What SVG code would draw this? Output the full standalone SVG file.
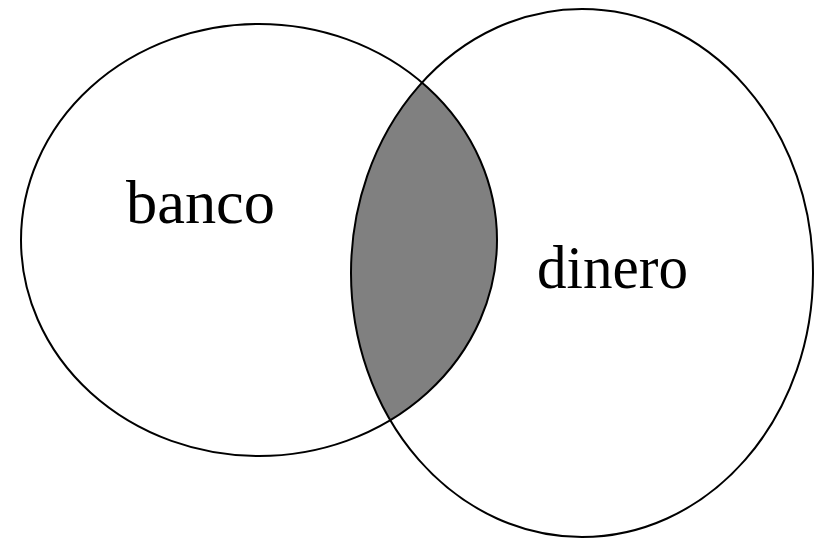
<svg xmlns="http://www.w3.org/2000/svg" width="814" height="539" viewBox="0 0 814 539">
<style>
.outline{fill:none;stroke:#000;stroke-width:2}
.lbl{font-family:"Liberation Serif","Times New Roman",serif;font-size:62px;fill:#000}
</style>
<defs>
<clipPath id="clipLeft"><ellipse cx="259" cy="240" rx="238" ry="216"/></clipPath>
</defs>
<rect width="814" height="539" fill="#fff"/>
<g id="intersection">
<ellipse cx="582" cy="273" rx="231" ry="264" fill="#808080" clip-path="url(#clipLeft)"/>
</g>
<g id="banco">
<ellipse class="outline" cx="259" cy="240" rx="238" ry="216"/>
<text class="lbl" x="126" y="223" textLength="149" lengthAdjust="spacingAndGlyphs">banco</text>
</g>
<g id="dinero">
<ellipse class="outline" cx="582" cy="273" rx="231" ry="264"/>
<text class="lbl" x="537" y="288" textLength="151" lengthAdjust="spacingAndGlyphs">dinero</text>
</g>
</svg>
